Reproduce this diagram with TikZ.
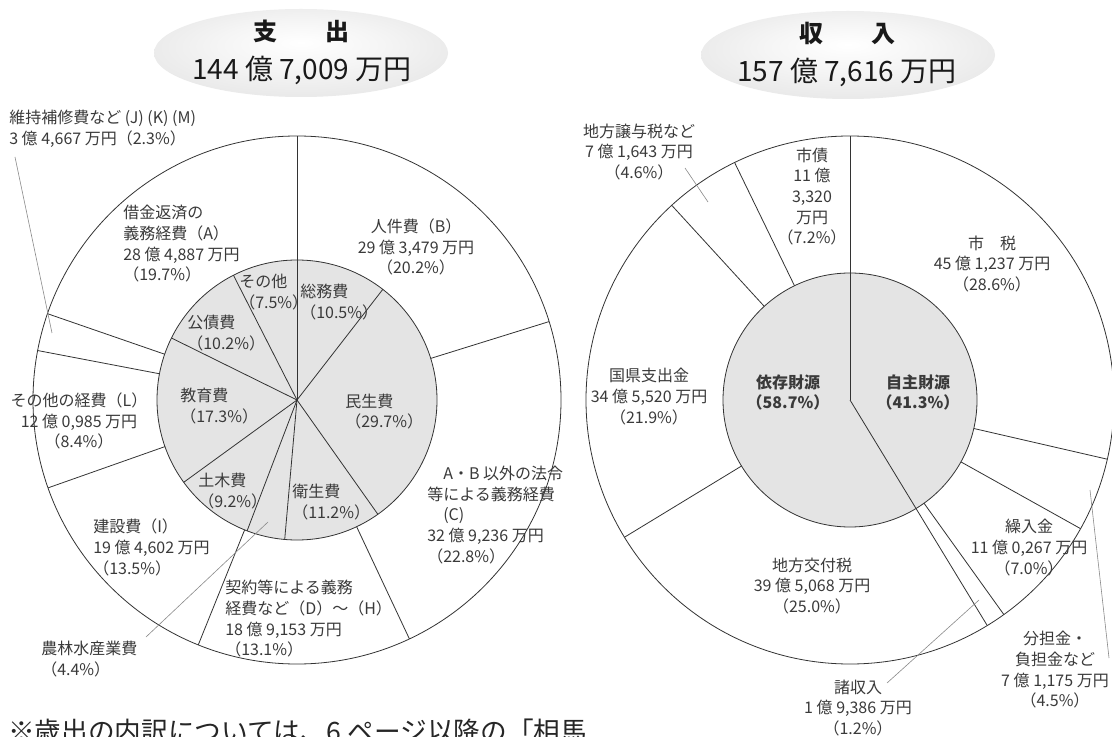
\documentclass[tikz,border=0pt]{standalone}
\usepackage{fontspec}
\setmainfont{Noto Sans CJK JP}
\definecolor{piegray}{HTML}{E4E4E4}
\definecolor{inkgray}{HTML}{3A3A3A}
\definecolor{leadgray}{HTML}{8A8A8A}
\pgfdeclareradialshading{titleglow}{\pgfpoint{0bp}{6bp}}{color(0bp)=(white); color(14bp)=(black!4); color(32bp)=(black!10); color(43bp)=(black!15); color(47bp)=(black!9); color(50bp)=(white)}
\begin{document}
\begin{tikzpicture}[x=0.75pt, y=0.75pt,
    pieline/.style={draw=black!80, line width=0.6pt},
    leadline/.style={draw=leadgray, line width=0.45pt},
    lbl/.style={text=inkgray, inner sep=0pt, font=\fontsize{12}{15.5}\selectfont},
    lblL/.style={lbl, anchor=west, align=left},
    lblC/.style={lbl, align=center},
    lblB/.style={lblC, font=\fontsize{12}{15.5}\selectfont\bfseries},
    headtext/.style={text=black!90, inner sep=0pt, font=\fontsize{18}{20}\selectfont\bfseries},
    sumtext/.style={text=black!90, inner sep=0pt, font=\fontsize{21}{24}\selectfont}]
  \fill[white] (0,0) rectangle (1112,-737);
  \useasboundingbox (0,0) rectangle (1112,-737);
  % titles
  \shade[shading=titleglow] (301,-53) ellipse (147 and 44);
  \shade[shading=titleglow] (848,-55) ellipse (147 and 44);
  \node[headtext] (exphead) at (301,-31) {支　　出};
  \node[sumtext] (expsum) at (302,-70) {144 億 7,009 万円};
  \node[headtext] (revhead) at (847,-33) {収　　入};
  \node[sumtext] (revsum) at (847,-72) {157 億 7,616 万円};
  % expenditure
  \coordinate (exp) at (297,-400);
  \fill[piegray] (exp) circle (140);
  \foreach \a in {90,52.2,-54.72,-95.04,-110.88,-144,153.72,117}
    \draw[pieline] (exp) -- ++(\a:140);
  \foreach \a in {90,17.28,-64.8,-111.96,-160.56,169.2,160.92}
    \draw[pieline] (exp) ++(\a:140) -- ++(\a:124);
  \draw[pieline] (exp) circle (140) (exp) circle (264);
  % revenue
  \coordinate (rev) at (850,-400);
  \fill[piegray] (rev) circle (127);
  \foreach \a in {90,-58.68}
    \draw[pieline] (rev) -- ++(\a:264);
  \foreach \a in {-12.96,-29.16,-54.36,-148.68,132.48,115.92}
    \draw[pieline] (rev) ++(\a:127) -- ++(\a:137);
  \draw[pieline] (rev) circle (127) (rev) circle (264);
  % expenditure labels
  \node[lblL] (upkeep) at (9,-129) {維持補修費など (J) (K) (M)\\3 億 4,667 万円（2.3\%）};
  \node[lblL] (debtA) at (123,-244) {借金返済の\\義務経費（A）\\28 億 4,887 万円\\（19.7\%）};
  \node[lblC] (staffB) at (416,-247) {人件費（B）\\29 億 3,479 万円\\（20.2\%）};
  \node[lblL] (legalC) at (427,-515) {　A・B 以外の法令\\等による義務経費\\　(C)\\32 億 9,236 万円\\（22.8\%）};
  \node[lblL] (contract) at (225,-619) {契約等による義務\\経費など（D）～（H）\\18 億 9,153 万円\\（13.1\%）};
  \node[lblL] (buildI) at (93,-547.5) {建設費（I）\\19 億 4,602 万円\\（13.5\%）};
  \node[lblC] (otherL) at (79,-421) {その他の経費（L）\\12 億 0,985 万円\\（8.4\%）};
  \node[lblL] (farm) at (41,-659) {農林水産業費\\（4.4\%）};
  \node[lblL] (sonota) at (239,-292) {その他\\（7.5\%）};
  \node[lblL] (somu) at (300,-302) {総務費\\（10.5\%）};
  \node[lblL] (kosai) at (187,-333) {公債費\\（10.2\%）};
  \node[lblL] (kyoiku) at (180,-406) {教育費\\（17.3\%）};
  \node[lblL] (minsei) at (345,-411.5) {民生費\\（29.7\%）};
  \node[lblL] (doboku) at (198,-491) {土木費\\（9.2\%）};
  \node[lblL] (eisei) at (292,-502) {衛生費\\（11.2\%）};
  % revenue labels
  \node[lblC] (joyo) at (639,-152) {地方譲与税など\\7 億 1,643 万円\\（4.6\%）};
  \node[lblC] (shisai) at (812,-196.5) {市債\\11 億\\3,320\\万円\\（7.2\%）};
  \node[lblC] (shizei) at (992,-264) {市　税\\45 億 1,237 万円\\（28.6\%）};
  \node[lblB] (izon) at (788,-392.5) {依存財源\\（58.7\%）};
  \node[lblB] (jishu) at (918,-392.5) {自主財源\\（41.3\%）};
  \node[lblC] (kokken) at (649,-396.5) {国県支出金\\34 億 5,520 万円\\（21.9\%）};
  \node[lblC] (kofu) at (812,-586) {地方交付税\\39 億 5,068 万円\\（25.0\%）};
  \node[lblC] (kuri) at (1029,-547.5) {繰入金\\11 億 0,267 万円\\（7.0\%）};
  \node[lblC] (buntan) at (1055,-670) {分担金・\\負担金など\\7 億 1,175 万円\\（4.5\%）};
  \node[lblC] (shoshu) at (858,-708) {諸収入\\1 億 9,386 万円\\（1.2\%）};
  % leader lines
  \coordinate (upkeep in) at (52,-333);   \coordinate (upkeep out) at (15,-157);
  \coordinate (farm in) at (268,-522);    \coordinate (farm out) at (146,-637);
  \coordinate (joyo in) at (708,-202);    \coordinate (joyo out) at (685,-168);
  \coordinate (buntan in) at (1090,-490); \coordinate (buntan out) at (1109,-658);
  \coordinate (shoshu in) at (979,-600);  \coordinate (shoshu out) at (887,-683);
  \foreach \p in {upkeep,farm,joyo,buntan,shoshu}
    \draw[leadline] (\p\space out) -- (\p\space in);
  \node[anchor=base west, inner sep=0pt, text=black!85, font=\fontsize{20}{22}\selectfont] (note) at (8,-741) {※歳出の内訳については、6 ページ以降の「相馬};
\end{tikzpicture}
\end{document}
